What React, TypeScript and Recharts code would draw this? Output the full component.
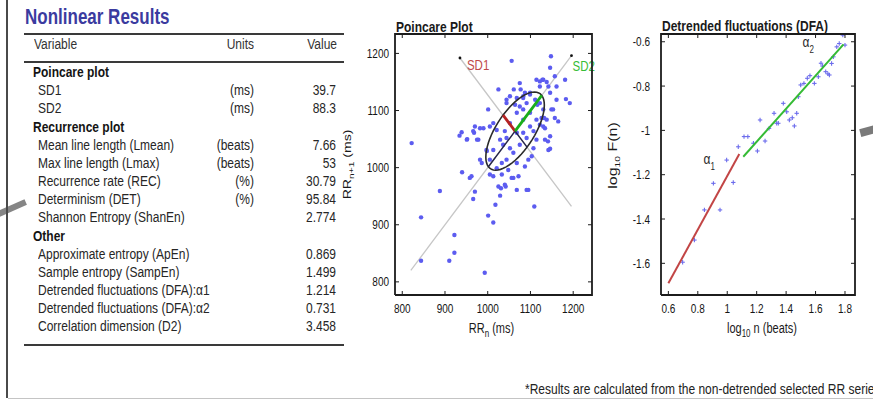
import React from "react";
import { ScatterChart, Scatter, XAxis, YAxis } from "recharts";

const FONT = '"Liberation Sans", Arial, Helvetica, sans-serif';
const STRETCH = 1.28; // the source picture is taller than wide, text looks stretched

// ---- table values ----
const tableTitle = "Nonlinear Results";
const tableHeader = ["Variable", "Units", "Value"];
const poincareRows = [
  ["SD1", "(ms)", "39.7"],
  ["SD2", "(ms)", "88.3"],
];
const recurrenceRows = [
  ["Mean line length (Lmean)", "(beats)", "7.66"],
  ["Max line length (Lmax)", "(beats)", "53"],
  ["Recurrence rate (REC)", "(%)", "30.79"],
  ["Determinism (DET)", "(%)", "95.84"],
  ["Shannon Entropy (ShanEn)", "", "2.774"],
];
const otherRows = [
  ["Approximate entropy (ApEn)", "", "0.869"],
  ["Sample entropy (SampEn)", "", "1.499"],
  ["Detrended fluctuations (DFA):\u03b11", "", "1.214"],
  ["Detrended fluctuations (DFA):\u03b12", "", "0.731"],
  ["Correlation dimension (D2)", "", "3.458"],
];
const tableSections: [string, string[][]][] = [
  ["Poincare plot", poincareRows],
  ["Recurrence plot", recurrenceRows],
  ["Other", otherRows],
];
const footnote = "*Results are calculated from the non-detrended selected RR series";

// ---- poincare values ----
const SD1 = 39.7;
const SD2 = 88.3;
const rrMean = 1064;
const rrTicks = [800, 900, 1000, 1100, 1200];
const poincareXDomain = [783, 1244];
const poincareYDomain = [777, 1234];
const poincarePairs: [number, number][] = [
  [822, 1043], [844, 913], [844, 837], [888, 959], [922, 882], [922, 851], [910, 837],
  [993, 816], [1001, 916], [1013, 904], [1018, 935], [1029, 951], [1031, 964], [1042, 967],
  [1060, 982], [1091, 961], [1109, 932], [970, 958], [966, 945], [958, 982], [940, 992],
  [986, 1008], [997, 1031], [939, 1062], [952, 1050], [968, 1061], [975, 1049], [982, 1069],
  [1001, 1102], [1025, 1137], [1056, 1187], [1148, 1195], [1146, 1175], [1181, 1154],
  [1192, 1113], [1183, 1120], [1161, 1142], [1161, 1119], [1149, 1102], [1141, 1046],
  [1134, 1069], [1146, 1033], [1132, 1087], [1075, 1148], [1077, 1137], [1061, 1137],
  [1044, 1119], [1083, 1122], [1099, 1131], [1128, 1154], [1122, 1142], [1142, 1142],
  [1116, 1110], [1126, 1087], [1114, 1154], [1122, 1151], [1130, 1154], [1138, 1150],
  [1157, 1160], [1146, 1131], [1087, 1131], [1068, 1122], [1052, 1125], [970, 1072],
  [966, 1064], [990, 1069], [978, 1049], [951, 1049], [934, 1056], [1114, 1049], [1005, 988],
  [962, 985], [1075, 1107], [1083, 1102], [1091, 1113], [1099, 1096], [1068, 1096],
  [1083, 1084], [1005, 1072], [1013, 1078], [1021, 1066], [1029, 1049], [1044, 1052],
  [1036, 1040], [1052, 1034], [1060, 1026], [1044, 1014], [1033, 1008], [1021, 999],
  [1005, 1014], [998, 1029], [1013, 1031], [1134, 1049], [1146, 1055], [1130, 1072],
  [1157, 1087], [1165, 1081], [1153, 1102], [1107, 1034], [1103, 1020], [1095, 1014],
  [1142, 1031], [1025, 967], [1040, 970], [1056, 982], [1072, 985], [1095, 961], [1068, 961],
  [1111, 1119], [1122, 1113], [1130, 1102], [1114, 1084], [1099, 1072], [1083, 1061],
  [1068, 1061], [1052, 1078], [1040, 1064], [1075, 1040], [1091, 1052], [1107, 1064],
  [1122, 1075], [1138, 1084], [1048, 996], [1068, 1008], [1087, 1002], [1033, 988],
  [1013, 985], [982, 1014], [1044, 1113], [1064, 1110], [1099, 1128], [1083, 1125],
];
const identityLine = [{ x: 820, y: 820 }, { x: 1196, y: 1196 }];
const crossLine = [{ x: 935, y: 1192 }, { x: 1196, y: 932 }];
const sd1Marker = [{ x: 935, y: 1192 }];
const sd2Marker = [{ x: 1196, y: 1196 }];

// ---- DFA values ----
const dfaXTicks = [0.6, 0.8, 1, 1.2, 1.4, 1.6, 1.8];
const dfaYTicks = [-1.6, -1.4, -1.2, -1, -0.8, -0.6];
const dfaXDomain = [0.55, 1.868];
const dfaYDomain = [-1.743, -0.565];
const dfaPairs: [number, number][] = [
  [0.697, -1.595], [0.777, -1.495], [0.845, -1.359], [0.951, -1.359], [0.906, -1.239],
  [1.041, -1.235], [0.996, -1.134], [1.075, -1.074], [1.114, -1.028], [1.14, -1.028],
  [1.178, -1.058], [1.205, -1.093], [1.223, -0.953], [1.257, -1.048], [1.284, -0.991],
  [1.318, -0.923], [1.336, -0.968], [1.347, -0.968], [1.381, -0.878], [1.404, -0.916],
  [1.422, -0.953], [1.442, -0.943], [1.456, -0.98], [1.472, -0.923], [1.483, -0.848],
  [1.499, -0.795], [1.521, -0.788], [1.544, -0.765], [1.562, -0.753], [1.592, -0.788],
  [1.619, -0.758], [1.637, -0.697], [1.648, -0.71], [1.669, -0.735], [1.684, -0.745],
  [1.694, -0.75], [1.709, -0.698], [1.721, -0.668], [1.744, -0.623], [1.761, -0.608],
  [1.785, -0.57], [1.8, -0.615],
];
const alpha1Fit = [{ x: 0.6, y: -1.69 }, { x: 1.082, y: -1.107 }];
const alpha2Fit = [{ x: 1.109, y: -1.119 }, { x: 1.79, y: -0.612 }];
const alpha1Label = [{ x: 0.839, y: -1.152 }];
const alpha2Label = [{ x: 1.512, y: -0.622 }];

// derived
const poincareData = poincarePairs.map(([x, y]) => ({ x, y }));
const dfaData = dfaPairs.map(([x, y]) => ({ x, y }));
const ellipse = Array.from({ length: 61 }, (_, i) => {
  const t = (i * 6 * Math.PI) / 180;
  const u = SD2 * Math.cos(t);
  const v = SD1 * Math.sin(t);
  return { x: rrMean + (u - v) / Math.SQRT2, y: rrMean + (u + v) / Math.SQRT2 };
});
const c = { x: rrMean, y: rrMean };
const sd1Seg = [c, { x: rrMean - SD1 / Math.SQRT2, y: rrMean + SD1 / Math.SQRT2 }];
const sd2Seg = [c, { x: rrMean + SD2 / Math.SQRT2, y: rrMean + SD2 / Math.SQRT2 }];
const sd1Back = [c, { x: rrMean + SD1 / Math.SQRT2, y: rrMean - SD1 / Math.SQRT2 }];
const sd2Back = [c, { x: rrMean - SD2 / Math.SQRT2, y: rrMean - SD2 / Math.SQRT2 }];

// ---- styles ----
const INK = "#1c1c1c";
const TICK = 4;
const fmt = (v: number) => String(Math.round(v * 10) / 10);
const sy = `scale(1, ${STRETCH})`;

const bottomTick = (f: (v: number) => string) => (p: any) => (
  <text transform={`translate(${p.x}, ${p.y}) ${sy}`} dy="0.355em" textAnchor="middle" fontSize={10} fill="#151515" fontFamily={FONT}>
    {f(p.payload.value)}
  </text>
);
const leftTick = (f: (v: number) => string) => (p: any) => (
  <text transform={`translate(${p.x}, ${p.y}) ${sy}`} dy="0.355em" textAnchor="end" fontSize={10} fill="#151515" fontFamily={FONT}>
    {f(p.payload.value)}
  </text>
);

// inward tick marks and the box, drawn as scatter shapes/lines on the same scales
const mark = (dx: number, dy: number) => (p: any) => (
  <line x1={p.cx} y1={p.cy} x2={p.cx + dx} y2={p.cy + dy} stroke={INK} strokeWidth={1} />
);
const boxOf = (xd: number[], yd: number[]) => [
  { x: xd[0], y: yd[0] }, { x: xd[1], y: yd[0] }, { x: xd[1], y: yd[1] }, { x: xd[0], y: yd[1] }, { x: xd[0], y: yd[0] },
];

const NoDot = () => <g />;
const BlueDot = (p: any) => <circle cx={p.cx} cy={p.cy} r={2.2} fill="#5c5cf0" />;
const BlueCross = (p: any) => (
  <g stroke="#6c6cec" strokeWidth={1.1}>
    <line x1={p.cx - 2.2} y1={p.cy} x2={p.cx + 2.2} y2={p.cy} />
    <line x1={p.cx} y1={p.cy - 2.2} x2={p.cx} y2={p.cy + 2.2} />
  </g>
);
const markerLabel = (text: string, color: string, dx: number, dy: number) => (p: any) => (
  <g>
    <circle cx={p.cx} cy={p.cy} r={1.4} fill="#111" />
    <text transform={`translate(${p.cx + dx}, ${p.cy + dy}) ${sy}`} dy="0.355em" fill={color} fontSize={11.5} fontFamily={FONT}>
      {text}
    </text>
  </g>
);
const alphaLabel = (sub: string) => (p: any) => (
  <text transform={`translate(${p.cx}, ${p.cy}) ${sy}`} fill="#2a2a2a" fontSize={12} fontFamily={FONT}>
    {"\u03b1"}
    <tspan dy={5} fontSize={8}>{sub}</tspan>
  </text>
);

const subText = (main: string, sub: string, rest: string) => [
  <tspan key="a">{main}</tspan>,
  <tspan key="b" dy={3} fontSize={8}>{sub}</tspan>,
  <tspan key="c" dy={-3}>{rest}</tspan>,
];
const xTitle = (main: string, sub: string, rest: string, dx: number) => (p: any) => {
  const vb = p.viewBox || {};
  const x = vb.x + vb.width / 2 + dx;
  const y = vb.y + 33;
  return (
    <text transform={`translate(${x}, ${y}) ${sy}`} dy="0.355em" textAnchor="middle" fontSize={11} fill="#1a1a1a" fontFamily={FONT}>
      {subText(main, sub, rest)}
    </text>
  );
};
const yTitle = (main: string, sub: string, rest: string, left: number, shift: number, size: number) => (p: any) => {
  const vb = p.viewBox || {};
  const x = vb.x + left;
  const y = vb.y + vb.height / 2 + shift;
  return (
    <text transform={`translate(${x}, ${y}) rotate(-90) scale(${STRETCH}, 1)`} dy="0.355em" textAnchor="middle" fontSize={size} fill="#1a1a1a" fontFamily={FONT}>
      {subText(main, sub, rest)}
    </text>
  );
};

function frame(xd: number[], yd: number[], xt: number[], yt: number[]) {
  return [
    <Scatter key="mb" data={xt.map((x) => ({ x, y: yd[0] }))} shape={mark(0, -TICK)} isAnimationActive={false} />,
    <Scatter key="mt" data={xt.map((x) => ({ x, y: yd[1] }))} shape={mark(0, TICK)} isAnimationActive={false} />,
    <Scatter key="ml" data={yt.map((y) => ({ x: xd[0], y }))} shape={mark(TICK, 0)} isAnimationActive={false} />,
    <Scatter key="mr" data={yt.map((y) => ({ x: xd[1], y }))} shape={mark(-TICK, 0)} isAnimationActive={false} />,
    <Scatter key="box" data={boxOf(xd, yd)} line={{ stroke: INK, strokeWidth: 1.8 }} shape={NoDot} isAnimationActive={false} />,
  ];
}

function PoincareChart() {
  return (
    <ScatterChart width={270} height={335} margin={{ top: 24, right: 18, bottom: 0, left: 0 }}>
      <XAxis type="number" dataKey="x" domain={poincareXDomain} ticks={rrTicks} interval={0} height={50}
        axisLine={false} tickLine={false} tickSize={0} tickMargin={13} tick={bottomTick(String)}
        label={{ content: xTitle("RR", "n", " (ms)", -2) }} />
      <YAxis type="number" dataKey="y" domain={poincareYDomain} ticks={rrTicks} interval={0} width={55}
        axisLine={false} tickLine={false} tickSize={0} tickMargin={6} tick={leftTick(String)}
        label={{ content: yTitle("RR", "n+1", " (ms)", 7, 0, 11) }} />
      <Scatter data={identityLine} line={{ stroke: "#c6c6c6", strokeWidth: 1.3 }} shape={NoDot} isAnimationActive={false} />
      <Scatter data={crossLine} line={{ stroke: "#c6c6c6", strokeWidth: 1.3 }} shape={NoDot} isAnimationActive={false} />
      <Scatter data={poincareData} shape={BlueDot} isAnimationActive={false} />
      <Scatter data={ellipse} line={{ stroke: "#2b2b2b", strokeWidth: 1.6 }} shape={NoDot} isAnimationActive={false} />
      <Scatter data={sd1Back} line={{ stroke: "#24244a", strokeWidth: 1.4 }} shape={NoDot} isAnimationActive={false} />
      <Scatter data={sd2Back} line={{ stroke: "#24244a", strokeWidth: 1.4 }} shape={NoDot} isAnimationActive={false} />
      <Scatter data={sd1Seg} line={{ stroke: "#b52222", strokeWidth: 2.8 }} shape={NoDot} isAnimationActive={false} />
      <Scatter data={sd2Seg} line={{ stroke: "#1aae1a", strokeWidth: 2.8 }} shape={NoDot} isAnimationActive={false} />
      <Scatter data={sd1Marker} shape={markerLabel("SD1", "#c04a4a", 7, 7)} isAnimationActive={false} />
      <Scatter data={sd2Marker} shape={markerLabel("SD2", "#38bd38", 1, 10)} isAnimationActive={false} />
      {frame(poincareXDomain, poincareYDomain, rrTicks, rrTicks)}
    </ScatterChart>
  );
}

function DfaChart() {
  return (
    <ScatterChart width={273} height={335} margin={{ top: 24, right: 18, bottom: 0, left: 0 }}>
      <XAxis type="number" dataKey="x" domain={dfaXDomain} ticks={dfaXTicks} interval={0} height={50}
        axisLine={false} tickLine={false} tickSize={0} tickMargin={13} tick={bottomTick(fmt)}
        label={{ content: xTitle("log", "10", " n (beats)", 4) }} />
      <YAxis type="number" dataKey="y" domain={dfaYDomain} ticks={dfaYTicks} interval={0} width={61}
        axisLine={false} tickLine={false} tickSize={0} tickMargin={11} tick={leftTick(fmt)}
        label={{ content: yTitle("log", "10", " F(n)", 13, -9, 12.5) }} />
      <Scatter data={dfaData} shape={BlueCross} isAnimationActive={false} />
      <Scatter data={alpha1Fit} line={{ stroke: "#c24545", strokeWidth: 2 }} shape={NoDot} isAnimationActive={false} />
      <Scatter data={alpha2Fit} line={{ stroke: "#35bb35", strokeWidth: 2 }} shape={NoDot} isAnimationActive={false} />
      <Scatter data={alpha1Label} shape={alphaLabel("1")} isAnimationActive={false} />
      <Scatter data={alpha2Label} shape={alphaLabel("2")} isAnimationActive={false} />
      {frame(dfaXDomain, dfaYDomain, dfaXTicks, dfaYTicks)}
    </ScatterChart>
  );
}

function ResultsTable() {
  const cells: React.ReactNode[] = [];
  const base: React.CSSProperties = {
    position: "absolute", fontSize: 12, lineHeight: "18px", height: 18, whiteSpace: "nowrap", color: "#262626",
    transform: `scaleY(${STRETCH})`,
  };
  const addRow = (r: string[], center: number, key: string) => {
    const top = center - 9;
    cells.push(<div key={key + "l"} style={{ ...base, top, left: 38 }}>{r[0]}</div>);
    cells.push(<div key={key + "u"} style={{ ...base, top, left: 0, width: 254, textAlign: "right" }}>{r[1]}</div>);
    cells.push(<div key={key + "v"} style={{ ...base, top, left: 0, width: 336, textAlign: "right" }}>{r[2]}</div>);
  };
  let y = 72;
  tableSections.forEach(([name, items], si) => {
    if (si > 0) y += 19.5;
    cells.push(<div key={name} style={{ ...base, top: y - 9, left: 33, fontWeight: 700, color: "#141414" }}>{name}</div>);
    items.forEach((r, i) => {
      y += i === 0 ? 17.5 : 18;
      addRow(r, y, name + i);
    });
  });
  const rule = (top: number) => (
    <div key={"rule" + top} style={{ position: "absolute", left: 24, width: 320, top, height: 2, background: "#3a3a3a" }} />
  );
  return (
    <>
      <div style={{ position: "absolute", left: 25, top: 8, fontSize: 17, lineHeight: "17px", fontWeight: 700, color: "#3b3b9f", transform: `scaleY(${STRETCH})` }}>
        {tableTitle}
      </div>
      {rule(33)}
      <div style={{ ...base, top: 35, left: 34, color: "#333" }}>{tableHeader[0]}</div>
      <div style={{ ...base, top: 35, left: 0, width: 254, textAlign: "right", color: "#333" }}>{tableHeader[1]}</div>
      <div style={{ ...base, top: 35, left: 0, width: 337, textAlign: "right", color: "#333" }}>{tableHeader[2]}</div>
      {rule(61)}
      {cells}
      {rule(y + 18)}
    </>
  );
}

export default function App() {
  const title: React.CSSProperties = {
    position: "absolute", fontSize: 12, lineHeight: "12px", fontWeight: 700, color: "#1a1a1a", whiteSpace: "nowrap",
    transform: `scaleY(${STRETCH})`,
  };
  return (
    <div style={{ position: "absolute", left: 0, top: 0, width: 873, height: 401, overflow: "hidden", background: "#fff", fontFamily: FONT }}>
      <ResultsTable />
      <div style={{ ...title, left: 396, top: 21 }}>Poincare Plot</div>
      <div style={{ ...title, left: 662, top: 20 }}>Detrended fluctuations (DFA)</div>
      <div style={{ position: "absolute", left: 340, top: 10 }}>
        <PoincareChart />
      </div>
      <div style={{ position: "absolute", left: 600, top: 10 }}>
        <DfaChart />
      </div>
      <div style={{ position: "absolute", left: 525, top: 383, fontSize: 12, lineHeight: "12px", color: "#222", whiteSpace: "nowrap", transform: `scaleY(${STRETCH})` }}>
        {footnote}
      </div>
      <div style={{ position: "absolute", left: -3, top: 205, width: 30, height: 6, background: "#858585", transform: "rotate(-24deg)" }} />
      <div style={{ position: "absolute", left: 860, top: 127, width: 16, height: 8, background: "#7a7a7a", transform: "rotate(-15deg)" }} />
      <div style={{ position: "absolute", left: 6, top: 0, width: 2, height: 398, background: "#4a4a4a" }} />
      <div style={{ position: "absolute", left: 8, top: 398, width: 865, height: 1, background: "#c4c4c4" }} />
    </div>
  );
}
